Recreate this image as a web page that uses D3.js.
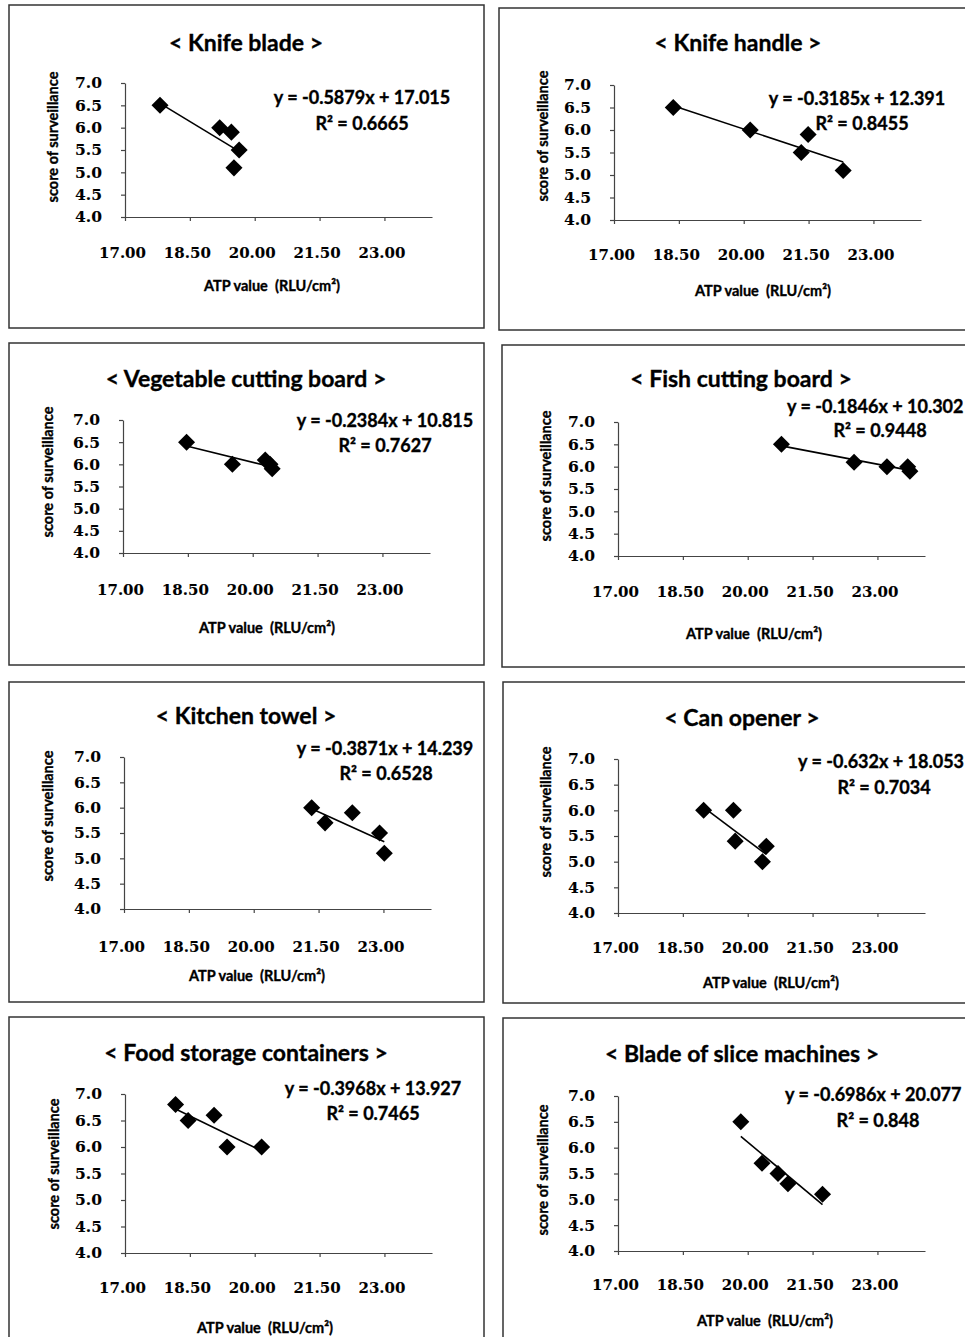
<!DOCTYPE html>
<html>
<head>
<meta charset="utf-8">
<script src="https://cdn.jsdelivr.net/npm/d3@7"></script>
<style>
  body { margin: 0; background: #fff; }
  text { font-family: Lato, "Open Sans", sans-serif; font-weight: bold; fill: #000; stroke: #000; stroke-width: 0.35px; }
  .tick text { font-family: "DejaVu Serif", "Liberation Serif", serif; stroke-width: 0.1px; }
</style>
</head>
<body>
<script>
// values
const titles = ['< Knife blade >', '< Knife handle >', '< Vegetable cutting board >', '< Fish cutting board >',
    '< Kitchen towel >', '< Can opener >', '< Food storage containers >', '< Blade of slice machines >']

const atpValues = [
    [17.81, 19.19, 19.46, 19.64, 19.52],
    [18.37, 20.15, 21.33, 21.49, 22.30],
    [18.47, 19.53, 20.29, 20.40, 20.45],
    [20.78, 22.46, 23.22, 23.70, 23.75],
    [21.34, 21.65, 22.28, 22.91, 23.02],
    [18.98, 19.67, 19.71, 20.43, 20.34],
    [18.17, 18.46, 19.06, 19.36, 20.16],
    [19.84, 20.33, 20.70, 20.93, 21.73]
]
const scores = [
    [6.5, 6.0, 5.9, 5.5, 5.1],
    [6.5, 6.0, 5.5, 5.9, 5.1],
    [6.5, 6.0, 6.1, 6.0, 5.9],
    [6.5, 6.1, 6.0, 6.0, 5.9],
    [6.0, 5.7, 5.9, 5.5, 5.1],
    [6.0, 6.0, 5.4, 5.3, 5.0],
    [6.8, 6.5, 6.6, 6.0, 6.0],
    [6.5, 5.7, 5.5, 5.3, 5.1]
]
const slopes = [-0.5879, -0.3185, -0.2384, -0.1846, -0.3871, -0.632, -0.3968, -0.6986]
const intercepts = [17.015, 12.391, 10.815, 10.302, 14.239, 18.053, 13.927, 20.077]
const rSquared = [0.6665, 0.8455, 0.7627, 0.9448, 0.6528, 0.7034, 0.7465, 0.848]

const xTicks = [17, 18.5, 20, 21.5, 23]
const yTicks = [4, 4.5, 5, 5.5, 6, 6.5, 7]
const xDomain = [17, 24.1]
const yDomain = [4, 7]

// where each panel sits on the page
const layout = [
    { box: [9, 5, 475, 323], left: 125, top: 83, bottom: 217, titleY: 42, tickY: 253, axisT: [272, 285], yT: [52, 137], eq: [362, 97, 'middle'], r2: [362, 123] },
    { box: [499, 8, 480, 322], left: 614, top: 85, bottom: 220, titleY: 42, tickY: 255, axisT: [763, 290], yT: [542, 136], eq: [857, 98, 'middle'], r2: [862, 123] },
    { box: [9, 343, 475, 322], left: 123, top: 420, bottom: 553, titleY: 378, tickY: 590, axisT: [267, 627], yT: [47, 472], eq: [385, 420, 'middle'], r2: [385, 445] },
    { box: [502, 345, 475, 322], left: 618, top: 422, bottom: 556, titleY: 378, tickY: 592, axisT: [754, 633], yT: [545, 476], eq: [787, 406, 'start'], r2: [880, 430] },
    { box: [9, 682, 475, 320], left: 124, top: 757, bottom: 909, titleY: 715, tickY: 947, axisT: [257, 975], yT: [47, 816], eq: [385, 748, 'middle'], r2: [386, 773] },
    { box: [503, 682, 475, 321], left: 618, top: 759, bottom: 913, titleY: 717, tickY: 948, axisT: [771, 982], yT: [545, 812], eq: [798, 761, 'start'], r2: [884, 787] },
    { box: [9, 1017, 475, 340], left: 125, top: 1094, bottom: 1253, titleY: 1052, tickY: 1288, axisT: [265, 1327], yT: [53, 1164], eq: [373, 1088, 'middle'], r2: [373, 1113] },
    { box: [503, 1018, 475, 340], left: 618, top: 1096, bottom: 1251, titleY: 1053, tickY: 1285, axisT: [765, 1320], yT: [542, 1170], eq: [785, 1094, 'start'], r2: [878, 1120] }
]

const WIDTH = 965
const HEIGHT = 1337
const PLOT_W = 307

const svg = d3.select('body').append('svg')
    .attr('width', WIDTH)
    .attr('height', HEIGHT)

titles.forEach((t, i) => drawPanel(i))

function drawPanel(i) {
    const L = layout[i]
    const g = svg.append('g')

    g.append('rect')
        .attr('x', L.box[0]).attr('y', L.box[1])
        .attr('width', L.box[2]).attr('height', L.box[3])
        .attr('fill', 'none').attr('stroke', '#333').attr('stroke-width', 1.5)

    g.append('text')
        .attr('x', L.box[0] + (i % 2 ? 239 : 237)).attr('y', L.titleY)
        .attr('text-anchor', 'middle').attr('dominant-baseline', 'central')
        .attr('font-size', 23)
        .text(titles[i])

    const x = d3.scaleLinear().domain(xDomain).range([L.left, L.left + PLOT_W])
    const y = d3.scaleLinear().domain(yDomain).range([L.bottom, L.top])

    const xAxis = g.append('g')
        .attr('transform', `translate(0,${L.bottom})`)
        .call(d3.axisBottom(x).tickValues(xTicks).tickFormat(d3.format('.2f'))
            .tickSize(4).tickPadding(L.tickY - L.bottom - 10).tickSizeOuter(0))
    xAxis.selectAll('text').attr('font-size', 15).attr('dx', -3)

    const yAxis = g.append('g')
        .attr('transform', `translate(${L.left},0)`)
        .call(d3.axisLeft(y).tickValues(yTicks).tickFormat(d3.format('.1f'))
            .tickSize(4).tickPadding(19).tickSizeOuter(0))
    yAxis.selectAll('text').attr('font-size', 15.5)

    g.selectAll('.domain, .tick line').attr('stroke', '#444').attr('stroke-width', 1.2)

    g.append('text')
        .attr('x', L.axisT[0]).attr('y', L.axisT[1])
        .attr('text-anchor', 'middle').attr('dominant-baseline', 'central')
        .attr('font-size', 14.5)
        .attr('xml:space', 'preserve')
        .text('ATP value  (RLU/cm²)')

    g.append('text')
        .attr('transform', `translate(${L.yT[0]},${L.yT[1]}) rotate(-90)`)
        .attr('text-anchor', 'middle').attr('dominant-baseline', 'central')
        .attr('font-size', 14.5)
        .text('score of surveillance')

    // trendline over the range of the points
    const ext = d3.extent(atpValues[i])
    g.append('line')
        .attr('x1', x(ext[0])).attr('y1', y(slopes[i] * ext[0] + intercepts[i]))
        .attr('x2', x(ext[1])).attr('y2', y(slopes[i] * ext[1] + intercepts[i]))
        .attr('stroke', '#000').attr('stroke-width', 1.6)

    const pts = atpValues[i].map((v, k) => [v, scores[i][k]])
    g.append('g')
        .selectAll('path')
        .data(pts)
        .join('path')
            .attr('transform', d => `translate(${x(d[0])},${y(d[1])}) rotate(45)`)
            .attr('d', d3.symbol(d3.symbolSquare, 145))
            .attr('fill', '#000')

    g.append('text')
        .attr('x', L.eq[0]).attr('y', L.eq[1])
        .attr('text-anchor', L.eq[2]).attr('dominant-baseline', 'central')
        .attr('font-size', 18)
        .text(`y = ${slopes[i]}x + ${intercepts[i]}`)

    g.append('text')
        .attr('x', L.r2[0]).attr('y', L.r2[1])
        .attr('text-anchor', 'middle').attr('dominant-baseline', 'central')
        .attr('font-size', 18)
        .text(`R² = ${rSquared[i]}`)
}
</script>
</body>
</html>
